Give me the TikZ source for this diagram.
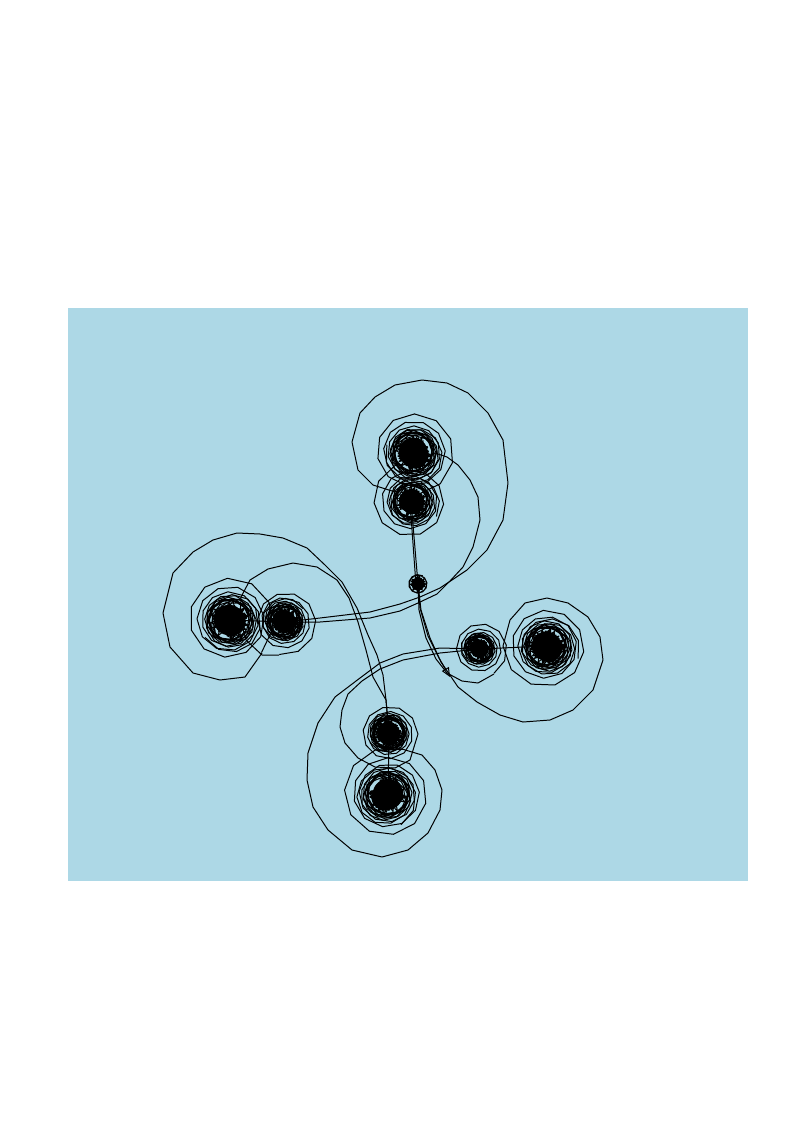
\documentclass[tikz,border=0pt]{standalone}
\usetikzlibrary{arrows.meta}

% an inward polygonal whorl round a centre, ending in a scribbled core
\newcommand{\whorl}[5]{%
  \pgfmathtruncatemacro{\whorlsamples}{10.6*#5+1}
  \draw[curl, shift={#1}] plot[domain=0:360*#5, samples=\whorlsamples]
    ({(#3+(#2-#3)*exp(-0.45*\x/360))*cos(#4-\x)},{(#3+(#2-#3)*exp(-0.45*\x/360))*sin(#4-\x)});
  \draw[curl, shift={#1}] plot[domain=0:59, samples=60]
    ({#3*(0.55+0.5*rnd)*cos(#4+\x*137.5)},{#3*(0.55+0.5*rnd)*sin(#4+\x*137.5)});
  \fill #1 circle ({0.8*#3});
}

\begin{document}
\begin{tikzpicture}[x=0.0264817cm,y=-0.0264817cm,
  curl/.style={line width=.75pt,line join=round}]
  \definecolor{pool}{HTML}{ADD8E6}
  \pgfmathsetseed{11}
  \useasboundingbox (0,0) rectangle (793,1123);
  \fill[pool] (68,308) rectangle (748,881);
  % cluster centres
  \coordinate (C) at (418,584);
  \coordinate (U1) at (411,501);
  \coordinate (U2) at (413,452);
  \coordinate (L1) at (285,622);
  \coordinate (L2) at (229,620);
  \coordinate (R1) at (480,649);
  \coordinate (R2) at (546,646);
  \coordinate (D1) at (389,734);
  \coordinate (D2) at (388,794);
  % straight spines of the four arms
  \draw[curl] (C) -- (U1) -- (U2);
  \draw[curl] (416,585) -- (410,502);
  \draw[curl] (L1) -- (L2);
  \draw[curl] (R1) -- (R2);
  \draw[curl] (D1) -- (D2);
  % upper arm: two loops that run down past the centre and on to L1
  \draw[curl] (L1) -- (320,618) -- (370,612) -- (400,604) -- (420,597) -- (440,588) -- (467,570) -- (487,550) -- (503,520) -- (508,483) -- (503,440) -- (488,413) -- (468,393) -- (447,383) -- (422,380) -- (395,385) -- (375,397) -- (360,413) -- (352,442) -- (358,470) -- (373,485) -- (392,491);
  \draw[curl] (L1) -- (320,622) -- (370,618) -- (400,611) -- (418,603) -- (437,594) -- (450,581) -- (463,567) -- (473,547) -- (480,520) -- (478,497) -- (470,480) -- (458,465) -- (447,457) -- (435,453) -- (418,462);
  % left arm: loops that fall into D1
  \draw[curl] (D1) -- (386,700) -- (383,675) -- (377,655) -- (368,635) -- (357,608) -- (342,582) -- (325,565) -- (307,548) -- (283,538) -- (260,534) -- (237,533) -- (213,540) -- (193,552) -- (173,573) -- (163,613) -- (170,647) -- (193,673) -- (220,680) -- (245,677) -- (262,653);
  \draw[curl] (D1) -- (386,700) -- (373,677) -- (366,650) -- (358,622) -- (349,598) -- (337,580) -- (317,567) -- (293,563) -- (268,569) -- (250,580) -- (241,597) -- (240,618) -- (246,640) -- (262,655) -- (279,655);
  % lower arm: loops that run across into R1
  \draw[curl] (R1) -- (440,648) -- (403,654) -- (380,663) -- (360,678) -- (335,697) -- (318,723) -- (308,753) -- (307,780) -- (313,807) -- (328,830) -- (352,850) -- (382,857) -- (408,850) -- (428,833) -- (440,810) -- (442,790) -- (435,770) -- (422,755) -- (402,749);
  \draw[curl] (R1) -- (440,653) -- (403,660) -- (380,669) -- (362,681) -- (348,694) -- (342,710) -- (340,727) -- (345,743) -- (358,758) -- (375,767) -- (395,768) -- (410,760) -- (418,734);
  % right arm: loops that climb back to the centre
  \draw[curl] (C) -- (421,610) -- (430,638) -- (441,662) -- (458,687) -- (477,702) -- (500,715) -- (523,722) -- (550,720) -- (573,710) -- (593,690) -- (603,660) -- (600,637) -- (588,617) -- (568,603) -- (547,598) -- (525,603) -- (510,620) -- (503,646);
  \draw[curl] (C) -- (419,610) -- (426,638) -- (436,659) -- (447,673) -- (462,681) -- (478,683) -- (494,674);
  \draw[curl,-{Triangle[open,length=7pt,width=6pt]}] (C) -- (420,608) -- (428,636) -- (439,658) -- (450,677);
  % the whorls themselves
  \whorl{(U2)}{44}{18}{118}{8}
  \whorl{(415,455)}{30}{17}{200}{4}
  \whorl{(U1)}{40}{15}{-80}{8}
  \whorl{(413,503)}{27}{14}{30}{4}
  \whorl{(L2)}{46}{19}{45}{8}
  \whorl{(232,622)}{31}{17}{150}{4}
  \whorl{(L1)}{33}{14}{100}{8}
  \whorl{(283,620)}{23}{13}{-30}{4}
  \whorl{(R2)}{43}{18}{180}{8}
  \whorl{(549,648)}{31}{17}{20}{4}
  \whorl{(R1)}{28}{11}{60}{8}
  \whorl{(478,648)}{17}{10}{200}{3}
  \whorl{(D2)}{47}{19}{-72}{8}
  \whorl{(385,797)}{32}{17}{60}{4}
  \whorl{(D1)}{29}{14}{0}{8}
  \whorl{(388,732)}{21}{13}{150}{4}
  \whorl{(C)}{9.5}{8}{-60}{2}
\end{tikzpicture}
\end{document}
